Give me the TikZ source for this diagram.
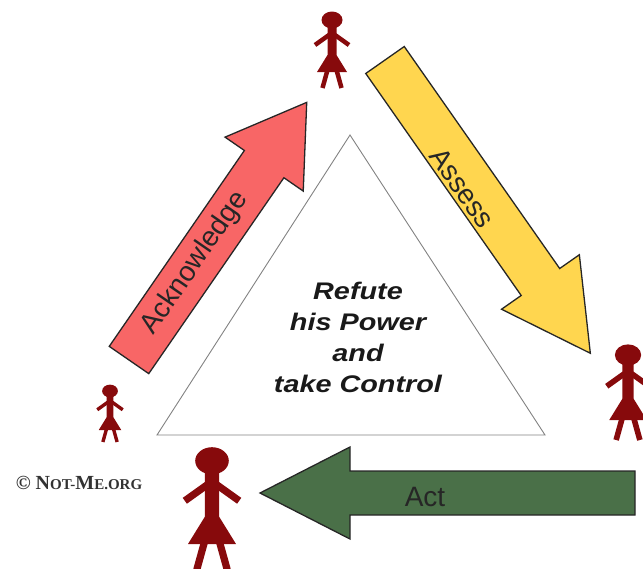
\documentclass[tikz,border=0pt]{standalone}
\usepackage{fontspec}
\setmainfont{Liberation Sans}
\newfontfamily\centerfont[FakeStretch=1.2]{Liberation Sans}
\newfontfamily\copyfont{Liberation Serif}
\definecolor{figred}{RGB}{135,10,12}
\definecolor{ackred}{RGB}{248,102,102}
\definecolor{assyellow}{RGB}{255,214,79}
\definecolor{actgreen}{RGB}{74,112,72}
\definecolor{trigray}{RGB}{130,130,130}
\definecolor{copygray}{RGB}{50,50,50}
\tikzset{
  blockarr/.style={draw=black!85, line width=1.3pt, line join=miter},
  figfill/.style={fill=figred},
  figline/.style={draw=figred},
  arrowtext/.style={font=\fontsize{28}{30}\selectfont, text=black!85, inner sep=0pt},
}
% x y angle length shaftwidth headwidth headlength style
\newcommand\blockarrow[8]{%
  \begin{scope}[shift={(#1,#2)},rotate=#3]
    \draw[#8] (0,{-#5/2}) -- ({#4-#7},{-#5/2}) -- ({#4-#7},{-#6/2}) -- (#4,0)
      -- ({#4-#7},{#6/2}) -- ({#4-#7},{#5/2}) -- (0,{#5/2}) -- cycle;
  \end{scope}}
% cx top scale linewidth
\newcommand\womanfig[4]{%
  \begin{scope}[shift={(#1,#2)},scale=#3]
    \fill[figfill] (0,8) ellipse [x radius=10.5, y radius=8.5];
    \fill[figfill] (-4.5,14) -- (4.5,14) -- (4.5,43) -- (15,60) -- (-15,60) -- (-4.5,43) -- cycle;
    \draw[figline, line width=#4] (-3,23) -- (-17,33) (3,23) -- (17,33);
    \draw[figline, line width=#4] (-4.5,58) -- (-9.5,76) (4.5,58) -- (9.5,76);
  \end{scope}}
\begin{document}
\begin{tikzpicture}[x=1pt,y=-1pt]
  \useasboundingbox (0,0) rectangle (643,568);
  \clip (0,0) rectangle (643,568);
  % central triangle
  \coordinate (apex) at (350,135);
  \coordinate (bl) at (157,435);
  \coordinate (br) at (545,435);
  \draw[trigray, line width=0.9pt] (bl) -- (apex) -- (br) -- cycle;
  \node[font=\centerfont\bfseries\itshape\fontsize{24}{31}\selectfont, align=center, text=black!90, inner sep=0pt]
    (centre) at (358,337) {Refute\\his Power\\and\\take Control};
  % block arrows
  \blockarrow{129}{360}{55.4}{313}{48}{95}{75}{blockarr, fill=ackred}
  \blockarrow{385}{60}{-55}{358}{47}{95}{87}{blockarr, fill=assyellow}
  \blockarrow{635}{493}{180}{375}{44}{92}{90}{blockarr, fill=actgreen}
  \node[arrowtext, rotate=55.4] (ack) at (195,263) {Acknowledge};
  \node[arrowtext, rotate=-55] (assess) at (462,188) {Assess};
  \node[arrowtext] (act) at (425,497) {Act};
  % figures
  \womanfig{332}{12}{1}{4.5pt}
  \womanfig{110}{385}{0.75}{3.4pt}
  \womanfig{628}{345}{1.25}{5.6pt}
  \womanfig{212}{448}{1.6}{7.2pt}
  % copyright
  \node[text=copygray, inner sep=0pt] (copy) at (79,483)
    {\copyfont\bfseries\fontsize{20}{22}\selectfont \char"00A9\ N{\fontsize{15}{16}\selectfont OT-}M{\fontsize{15}{16}\selectfont E.ORG}};
\end{tikzpicture}
\end{document}
